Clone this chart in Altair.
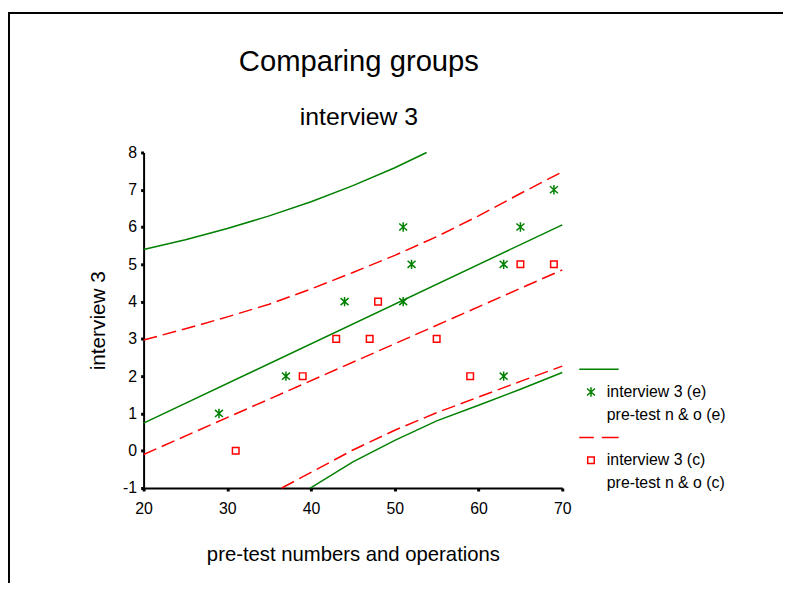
import altair as alt
import pandas as pd

# ---- data ----
e_x = [29, 37, 44, 51, 52, 51, 63, 65, 69, 63]
e_y = [1, 2, 4, 6, 5, 4, 5, 6, 7, 2]
c_x = [31, 39, 43, 47, 48, 55, 59, 65, 69]
c_y = [0, 2, 3, 3, 4, 3, 2, 5, 5]

fit_x = [20, 70]
e_fit = [0.74, 6.06]
c_fit = [-0.10, 4.85]

e_upper_x = [20, 25, 30, 35, 40, 45, 50, 53.8]
e_upper = [5.40, 5.66, 5.96, 6.30, 6.68, 7.11, 7.59, 8.0]
e_lower_x = [39.9, 45, 50, 55, 60, 65, 70]
e_lower = [-1.0, -0.30, 0.28, 0.80, 1.22, 1.65, 2.10]

c_upper_x = [20, 25, 30, 35, 40, 45, 50, 55, 60, 65, 70]
c_upper = [2.97, 3.27, 3.59, 3.93, 4.34, 4.78, 5.24, 5.74, 6.30, 6.90, 7.48]
c_lower_x = [36.5, 40, 45, 50, 55, 60, 65, 70]
c_lower = [-1.0, -0.58, 0.02, 0.55, 1.02, 1.44, 1.86, 2.27]

x_ticks = [20, 30, 40, 50, 60, 70]
y_ticks = [-1, 0, 1, 2, 3, 4, 5, 6, 7, 8]

legend_keys = ["gfit", "interview 3 (e)", "pre-test n & o (e)",
               "cfit", "interview 3 (c)", "pre-test n & o (c)"]

GREEN = "#008000"
RED = "#ff0000"
FONT = "Liberation Sans"

STAR = "M0,-1V1M-0.85,-0.75L0.85,0.75M-0.85,0.75L0.85,-0.75"
SQUARE = "M-0.7,-0.7H0.7V0.7H-0.7Z"
LINE_SOLID = "M-2.5,0H5.9"
LINE_DASH = "M-2.5,0H0.6M2.3,0H5.9"
NOTHING = "M0,0"


def curves(parts):
    rows = []
    for name, xs, ys in parts:
        for a, b in zip(xs, ys):
            rows.append({"x": a, "y": b, "curve": name})
    return pd.DataFrame(rows)


green_df = curves([("fit", fit_x, e_fit), ("upper", e_upper_x, e_upper),
                   ("lower", e_lower_x, e_lower)])
red_df = curves([("fit", fit_x, c_fit), ("upper", c_upper_x, c_upper),
                 ("lower", c_lower_x, c_lower)])
pts = pd.DataFrame({
    "x": e_x + c_x,
    "y": e_y + c_y,
    "series": ["interview 3 (e)"] * len(e_x) + ["interview 3 (c)"] * len(c_x),
})

xscale = alt.Scale(domain=[20, 70], nice=False, zero=False)
yscale = alt.Scale(domain=[-1, 8], nice=False, zero=False)

LBL = "datum.value + ''"

xaxis = alt.Axis(values=x_ticks, title="pre-test numbers and operations",
                 grid=False, labelFontSize=16, titleFontSize=20.5, titleFontWeight="normal",
                 labelFont=FONT, titleFont=FONT, labelColor="black", titleColor="black",
                 tickSize=3, tickWidth=3, tickColor="black", domainColor="black",
                 domainWidth=2, labelPadding=10, titlePadding=28, labelFlush=False,
                 labelOverlap=False, labelExpr=LBL)
yaxis = alt.Axis(values=y_ticks, title="interview 3",
                 grid=False, labelFontSize=16, titleFontSize=21, titleFontWeight="normal",
                 labelFont=FONT, titleFont=FONT, labelColor="black", titleColor="black",
                 tickSize=3, tickWidth=3, tickColor="black", domainColor="black",
                 domainWidth=2, labelPadding=4, titlePadding=14, labelFlush=False,
                 labelOverlap=False, labelExpr=LBL)

X = alt.X("x:Q", scale=xscale, axis=xaxis)
Y = alt.Y("y:Q", scale=yscale, axis=yaxis)

frame = alt.Chart(pd.DataFrame({"k": [0]})).mark_rect(
    fill="transparent", stroke="black", strokeWidth=2
).encode(x=alt.value(-136), x2=alt.value(700), y=alt.value(-141), y2=alt.value(520))

green_lines = alt.Chart(green_df).mark_line(color=GREEN, strokeWidth=1.5).encode(
    x=X, y=Y, detail="curve:N",
)
red_lines = alt.Chart(red_df).mark_line(color=RED, strokeWidth=1.5, strokeDash=[14, 6]).encode(
    x=X, y=Y, detail="curve:N",
)

legend = alt.Legend(
    title=None, orient="none", legendX=444, legendY=211, padding=0,
    labelFont=FONT, labelFontSize=16, labelColor="black", labelOffset=8,
    rowPadding=7, symbolSize=90, symbolStrokeWidth=1.5,
    labelExpr="datum.value == 'gfit' || datum.value == 'cfit' ? '' : datum.label",
)

points = alt.Chart(pts).mark_point(filled=False, size=90, strokeWidth=1.5, opacity=1).encode(
    x=X, y=Y,
    color=alt.Color("series:N", scale=alt.Scale(
        domain=legend_keys,
        range=[GREEN, GREEN, "transparent", RED, RED, "transparent"]), legend=legend),
    shape=alt.Shape("series:N", scale=alt.Scale(
        domain=legend_keys,
        range=[LINE_SOLID, STAR, NOTHING, LINE_DASH, SQUARE, NOTHING]), legend=legend),
)

chart = alt.layer(frame, green_lines, red_lines, points).properties(
    width=423, height=339,
    background="white",
    title=alt.TitleParams(
        "Comparing groups", subtitle="interview 3", font=FONT, subtitleFont=FONT,
        fontSize=29.5, subtitleFontSize=25, fontWeight="normal", subtitleFontWeight="normal",
        color="black", subtitleColor="black", anchor="middle", frame="group",
        offset=-120, subtitlePadding=28, dx=6,
    ),
    autosize=alt.AutoSizeParams(type="none"),
    padding={"left": 137, "top": 143, "right": 223, "bottom": 93},
).configure(
    view=alt.ViewConfig(stroke=None),
    axis=alt.AxisConfig(labelOverlap=False),
)

chart.save("out.html", embed_options={"renderer": "svg", "actions": False})
